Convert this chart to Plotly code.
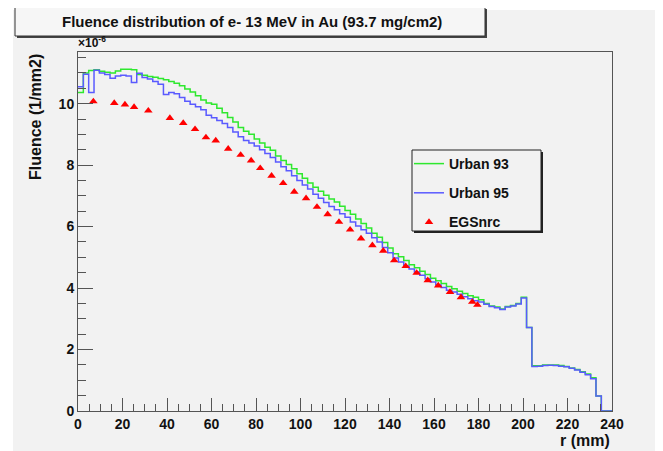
import numpy as np
import plotly.graph_objects as go

# ---------------- data ----------------
BIN_WIDTH = 2.4  # mm, 100 bins from 0 to 240 mm

urban93 = [10.36, 11.0, 11.08, 11.1, 11.05, 11.02, 11.0, 11.06, 11.12, 11.12,
           11.1, 10.95, 10.92, 10.88, 10.86, 10.82, 10.78, 10.72, 10.66, 10.58,
           10.48, 10.38, 10.26, 10.12, 10.02, 9.98, 9.85, 9.7, 9.55, 9.4,
           9.22, 9.1, 9.0, 8.85, 8.72, 8.58, 8.48, 8.3, 8.15, 8.02,
           7.88, 7.72, 7.57, 7.42, 7.28, 7.15, 7.02, 6.9, 6.8, 6.66,
           6.52, 6.4, 6.25, 6.1, 5.95, 5.78, 5.65, 5.48, 5.3, 5.12,
           5.02, 4.9, 4.76, 4.66, 4.55, 4.44, 4.32, 4.24, 4.15, 4.05,
           3.98, 3.9, 3.82, 3.75, 3.7, 3.62, 3.5, 3.42, 3.38, 3.32,
           3.4, 3.43, 3.5, 3.7, 2.72, 1.47, 1.47, 1.5, 1.5, 1.5,
           1.48, 1.45, 1.4, 1.35, 1.28, 1.2, 1.08, 0.49, 0.0, 0.0]

urban95 = [10.55, 10.96, 10.36, 11.09, 11.0, 10.95, 10.83, 10.9, 10.92, 10.9,
           10.69, 10.99, 10.85, 10.8, 10.72, 10.63, 10.3, 10.36, 10.32, 10.2,
           10.08, 9.98, 9.9, 9.8, 9.62, 9.54, 9.45, 9.35, 9.22, 9.08,
           8.92, 8.8, 8.72, 8.62, 8.5, 8.38, 8.25, 8.1, 7.95, 7.82,
           7.65, 7.5, 7.35, 7.22, 7.05, 6.92, 6.78, 6.65, 6.55, 6.42,
           6.3, 6.15, 6.02, 5.9, 5.78, 5.64, 5.5, 5.32, 5.15, 4.98,
           4.85, 4.72, 4.62, 4.52, 4.42, 4.3, 4.2, 4.1, 4.02, 3.93,
           3.87, 3.8, 3.72, 3.65, 3.59, 3.55, 3.47, 3.4, 3.36, 3.3,
           3.38, 3.42, 3.48, 3.68, 2.72, 1.45, 1.46, 1.48, 1.49, 1.48,
           1.46, 1.44, 1.39, 1.33, 1.26, 1.18, 1.05, 0.49, 0.0, 0.0]

egs_r = [6.9, 16.3, 21.1, 25.2, 31.6, 41.3, 47.3, 52.6, 57.5, 61.9,
         67.5, 73.1, 77.8, 81.9, 87.0, 92.2, 97.2, 102.5, 107.4, 112.2,
         117.3, 122.3, 127.2, 132.3, 137.2, 142.1, 147.3, 152.2, 157.2, 161.9,
         167.2, 172.1, 177.2, 179.5]
egs_f = [10.07, 10.02, 9.97, 9.89, 9.77, 9.53, 9.37, 9.17, 8.9, 8.8,
         8.53, 8.33, 8.15, 7.9, 7.65, 7.41, 7.13, 6.92, 6.64, 6.4,
         6.15, 5.9, 5.61, 5.39, 5.21, 4.9, 4.71, 4.49, 4.25, 4.08,
         3.87, 3.7, 3.55, 3.45]

x_ticks = [0, 20, 40, 60, 80, 100, 120, 140, 160, 180, 200, 220, 240]
y_ticks = [0, 2, 4, 6, 8, 10]

title_text = "Fluence distribution of e- 13 MeV in Au (93.7 mg/cm2)"
x_title = "r (mm)"
y_title = "Fluence (1/mm2)"

# ---------------- layout geometry (page pixels) ----------------
PAGE_W, PAGE_H = 663, 451
OFF = 8  # default body margin of the html page
W, H = PAGE_W - OFF, PAGE_H - OFF
PL, PR, PT, PB = 78, 612, 52, 411
X_RANGE = [0, 240]
Y_RANGE = [0, 11.68]

def px(xp):
    return (xp - PL) / (PR - PL)

def py(yp):
    return (PB - yp) / (PB - PT)

edges = np.arange(len(urban93) + 1) * BIN_WIDTH

def step_y(vals):
    return list(vals) + [vals[-1]]

FONT = "Liberation Sans, Arial, sans-serif"
GREY = "#f2f2f2"

fig = go.Figure()
fig.add_trace(go.Scatter(x=edges, y=step_y(urban93), mode="lines", line_shape="hv",
                         line=dict(color="#2ee82e", width=1.5), name="Urban 93",
                         legendgroup="a"))
fig.add_trace(go.Scatter(x=edges, y=step_y(urban95), mode="lines", line_shape="hv",
                         line=dict(color="#5a5aff", width=1.5), name="Urban 95",
                         legendgroup="b"))
fig.add_trace(go.Scatter(x=egs_r, y=egs_f, mode="markers",
                         marker=dict(symbol="triangle-up", size=7.5, color="#ff0000"),
                         name="EGSnrc", legendgroup="c"))

shapes = [
    # canvas
    dict(type="rect", xref="paper", yref="paper", layer="below",
         x0=px(13), x1=px(700), y0=py(500), y1=py(10),
         fillcolor=GREY, line=dict(width=0)),
    # title box shadow + box
    dict(type="rect", xref="paper", yref="paper", layer="above",
         x0=px(17), x1=px(487), y0=py(38), y1=py(9),
         fillcolor="#444", line=dict(width=0)),
    dict(type="rect", xref="paper", yref="paper", layer="above",
         x0=px(15), x1=px(485), y0=py(36), y1=py(7),
         fillcolor="#f6f6f6", line=dict(color="#333", width=1)),
    # legend box shadow + box
    dict(type="rect", xref="paper", yref="paper", layer="above",
         x0=px(414), x1=px(543), y0=py(233), y1=py(152),
         fillcolor="#222", line=dict(width=0)),
    dict(type="rect", xref="paper", yref="paper", layer="above",
         x0=px(412), x1=px(541), y0=py(231), y1=py(150),
         fillcolor=GREY, line=dict(color="#222", width=1)),
]

annotations = [
    dict(text=title_text, xref="paper", yref="paper", x=px(252), y=py(22),
         xanchor="center", yanchor="middle", showarrow=False,
         font=dict(family=FONT, size=15, color="#111", weight="bold")),
    dict(text="×10<sup>-6</sup>", xref="paper", yref="paper", x=px(76), y=py(52),
         xanchor="left", yanchor="bottom", showarrow=False,
         font=dict(family=FONT, size=12, color="#111", weight="bold")),
    dict(text=y_title, xref="paper", yref="paper", x=px(35), y=py(52),
         xanchor="center", yanchor="top", textangle=-90, showarrow=False,
         font=dict(family=FONT, size=16, color="#111", weight="bold")),
    dict(text=x_title, xref="paper", yref="paper", x=px(612), y=py(440),
         xanchor="right", yanchor="middle", showarrow=False,
         font=dict(family=FONT, size=16, color="#111", weight="bold")),
]

axis_common = dict(showgrid=False, zeroline=False, showline=True, mirror=True,
                   linecolor="#555", linewidth=1, ticks="inside", tickcolor="#555",
                   tickfont=dict(family=FONT, size=14, color="#111", weight="bold"))

fig.update_layout(
    width=W, height=H,
    margin=dict(l=PL - OFF, r=PAGE_W - PR, t=PT - OFF, b=PAGE_H - PB, pad=0),
    paper_bgcolor="white", plot_bgcolor=GREY,
    showlegend=True,
    legend=dict(x=px(409), y=py(148), xanchor="left", yanchor="top",
                bgcolor="rgba(0,0,0,0)", borderwidth=0, tracegroupgap=8,
                font=dict(family=FONT, size=14, color="#111", weight="bold")),
    xaxis=dict(range=X_RANGE, tickvals=x_ticks, ticklen=13,
               minor=dict(dtick=5, ticks="inside", ticklen=7, tickcolor="#555"),
               **axis_common),
    yaxis=dict(range=Y_RANGE, tickvals=y_ticks, ticklen=15,
               minor=dict(dtick=0.5, ticks="inside", ticklen=8, tickcolor="#555"),
               **axis_common),
    shapes=shapes, annotations=annotations,
)

fig.write_html("out.html")
